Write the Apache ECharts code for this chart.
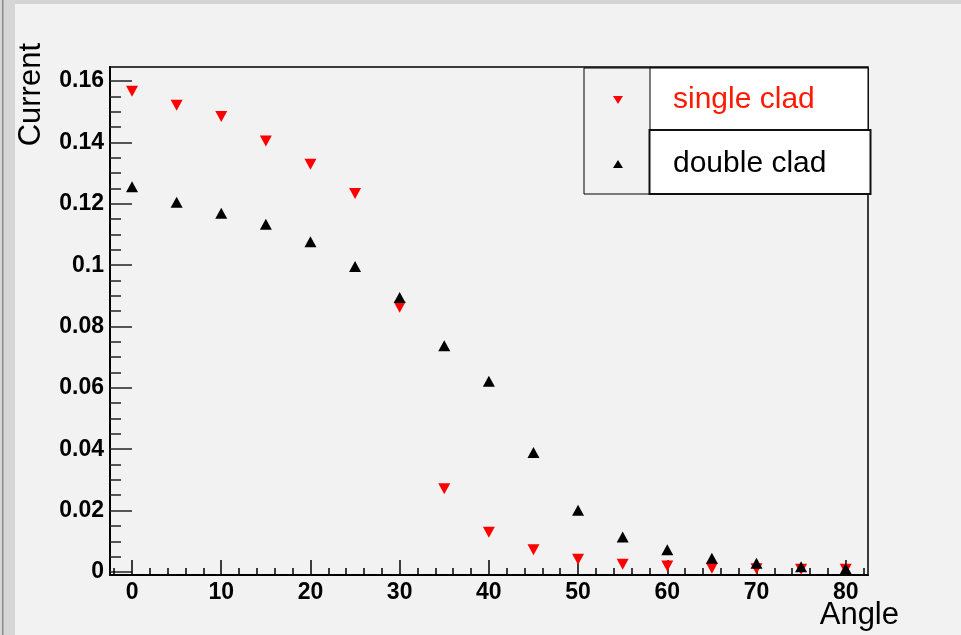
<!DOCTYPE html>
<html>
<head>
<meta charset="utf-8">
<title>Current vs Angle</title>
<script src="https://cdn.jsdelivr.net/npm/echarts@6.0.0/dist/echarts.min.js"></script>
<style>
  html, body { margin: 0; padding: 0; background: #f2f2f2; }
  #chartContainer { width: 961px; height: 635px; }
</style>
</head>
<body>
<div id="chartContainer"></div>
<script>
// 数据
const angles = [0, 5, 10, 15, 20, 25, 30, 35, 40, 45, 50, 55, 60, 65, 70, 75, 80];
const singleClad = [0.1567, 0.1521, 0.1485, 0.1405, 0.1329, 0.1234, 0.0863, 0.0271, 0.0129,
  0.0072, 0.0041, 0.0025, 0.0019, 0.0012, 0.0010, 0.0009, 0.0009];
const doubleClad = [0.1256, 0.1205, 0.1169, 0.1133, 0.1076, 0.0996, 0.0895, 0.0737, 0.0622,
  0.0389, 0.0201, 0.0114, 0.0072, 0.0045, 0.0028, 0.0017, 0.0010];
const xTicks = [0, 10, 20, 30, 40, 50, 60, 70, 80];
const xMinorTicks = [-2, 0, 2, 4, 6, 8, 10, 12, 14, 16, 18, 20, 22, 24, 26, 28, 30, 32, 34, 36, 38, 40,
  42, 44, 46, 48, 50, 52, 54, 56, 58, 60, 62, 64, 66, 68, 70, 72, 74, 76, 78, 80, 82];
const yTicks = [0, 0.02, 0.04, 0.06, 0.08, 0.1, 0.12, 0.14, 0.16];
const yMinorTicks = [0, 0.005, 0.01, 0.015, 0.02, 0.025, 0.03, 0.035, 0.04, 0.045, 0.05, 0.055,
  0.06, 0.065, 0.07, 0.075, 0.08, 0.085, 0.09, 0.095, 0.1, 0.105, 0.11, 0.115, 0.12, 0.125,
  0.13, 0.135, 0.14, 0.145, 0.15, 0.155, 0.16];
const xRange = [-2.47, 82.5];
const yRange = [-0.001, 0.1646];

const toPoints = (vals) => angles.map((a, i) => [a, vals[i]]);

const chart = echarts.init(document.getElementById('chartContainer'));
const labelFont = { color: '#000', fontSize: 23, fontWeight: 'bold', fontFamily: 'Liberation Sans, Arial, sans-serif' };
const downTriangle = 'path://M0,0 L10,0 L5,8 Z';
const upTriangle = 'path://M5,0 L10,8 L0,8 Z';

const option = {
  backgroundColor: '#f2f2f2',
  animation: false,
  grid: {
    left: 110,
    top: 67,
    right: 93,
    bottom: 60,
    show: true,
    backgroundColor: 'transparent',
    borderColor: '#000',
    borderWidth: 1.5
  },
  legend: {
    orient: 'vertical',
    left: 613,
    top: 85,
    padding: 0,
    itemWidth: 10,
    itemHeight: 8,
    itemGap: 34,
    z: 6,
    selectedMode: false,
    data: [
      { name: 'single clad', icon: downTriangle, itemStyle: { color: '#ff0000', opacity: 1 }, textStyle: { color: '#ff1a00' } },
      { name: 'double clad', icon: upTriangle, itemStyle: { color: '#000', opacity: 1 }, textStyle: { color: '#000' } }
    ],
    textStyle: {
      fontSize: 30,
      lineHeight: 30,
      fontFamily: 'Liberation Sans, Arial, sans-serif',
      padding: [0, 0, 0, 45]
    }
  },
  graphic: [
    // 窗口边缘
    { type: 'rect', shape: { x: 0, y: 0, width: 961, height: 4 }, style: { fill: '#d4d4d4' }, silent: true },
    { type: 'rect', shape: { x: 0, y: 0, width: 15, height: 635 }, style: { fill: '#d6d6d6' }, silent: true },
    { type: 'rect', shape: { x: 2, y: 0, width: 1.5, height: 635 }, style: { fill: '#8a8a8a' }, silent: true },
    // 图例框
    { type: 'rect', z: 5, shape: { x: 584, y: 68, width: 284, height: 126 }, style: { fill: '#f2f2f2', stroke: '#000', lineWidth: 1 }, silent: true },
    { type: 'rect', z: 5, shape: { x: 650, y: 68, width: 218, height: 62 }, style: { fill: '#fff', stroke: '#000', lineWidth: 1 }, silent: true },
    { type: 'rect', z: 5, shape: { x: 649.5, y: 130, width: 221, height: 64 }, style: { fill: '#fff', stroke: '#111', lineWidth: 2 }, silent: true },
    // y 轴标题（竖排）
    {
      type: 'text',
      x: 31,
      y: 43,
      rotation: Math.PI / 2,
      silent: true,
      style: {
        text: 'Current',
        fill: '#000',
        fontSize: 31,
        fontFamily: 'Liberation Sans, Arial, sans-serif',
        align: 'right',
        verticalAlign: 'middle'
      }
    }
  ],
  xAxis: [{
    type: 'value',
    min: xRange[0],
    max: xRange[1],
    position: 'bottom',
    name: 'Angle',
    nameLocation: 'end',
    nameGap: 31,
    nameMoveOverlap: false,
    nameTextStyle: {
      color: '#000',
      fontSize: 31,
      lineHeight: 31,
      fontFamily: 'Liberation Sans, Arial, sans-serif',
      align: 'right',
      verticalAlign: 'top',
      padding: [25, 0, 0, 0]
    },
    axisLine: { show: true, onZero: false, lineStyle: { color: '#000', width: 2 } },
    axisTick: { show: true, inside: true, length: 15, customValues: xTicks, lineStyle: { color: '#000', width: 1.5 } },
    axisLabel: Object.assign({ customValues: xTicks, margin: 6 }, labelFont),
    splitLine: { show: false }
  }, {
    // 副刻度
    type: 'value',
    min: xRange[0],
    max: xRange[1],
    position: 'bottom',
    axisLine: { show: false, onZero: false },
    axisTick: { show: true, inside: true, length: 7, customValues: xMinorTicks, lineStyle: { color: '#000', width: 1.5 } },
    axisLabel: { show: false },
    splitLine: { show: false }
  }],
  yAxis: [{
    type: 'value',
    min: yRange[0],
    max: yRange[1],
    position: 'left',
    axisLine: { show: true, onZero: false, lineStyle: { color: '#000', width: 2 } },
    axisTick: { show: true, inside: true, length: 22, customValues: yTicks, lineStyle: { color: '#222', width: 1.5 } },
    axisLabel: Object.assign({
      customValues: yTicks,
      margin: 6,
      formatter: (v) => (v === 0 ? '0' : String(Math.round(v * 100) / 100))
    }, labelFont),
    splitLine: { show: false }
  }, {
    // 副刻度
    type: 'value',
    min: yRange[0],
    max: yRange[1],
    position: 'left',
    axisLine: { show: false, onZero: false },
    axisTick: { show: true, inside: true, length: 11, customValues: yMinorTicks, lineStyle: { color: '#222', width: 1.5 } },
    axisLabel: { show: false },
    splitLine: { show: false }
  }],
  series: [{
    name: 'single clad',
    type: 'scatter',
    symbol: 'triangle',
    symbolRotate: 180,
    symbolSize: [12, 11],
    itemStyle: { color: '#ff0000', opacity: 1 },
    data: toPoints(singleClad)
  }, {
    name: 'double clad',
    type: 'scatter',
    symbol: 'triangle',
    symbolSize: [12, 11],
    itemStyle: { color: '#000', opacity: 1 },
    data: toPoints(doubleClad)
  }]
};

chart.setOption(option);
</script>
</body>
</html>
